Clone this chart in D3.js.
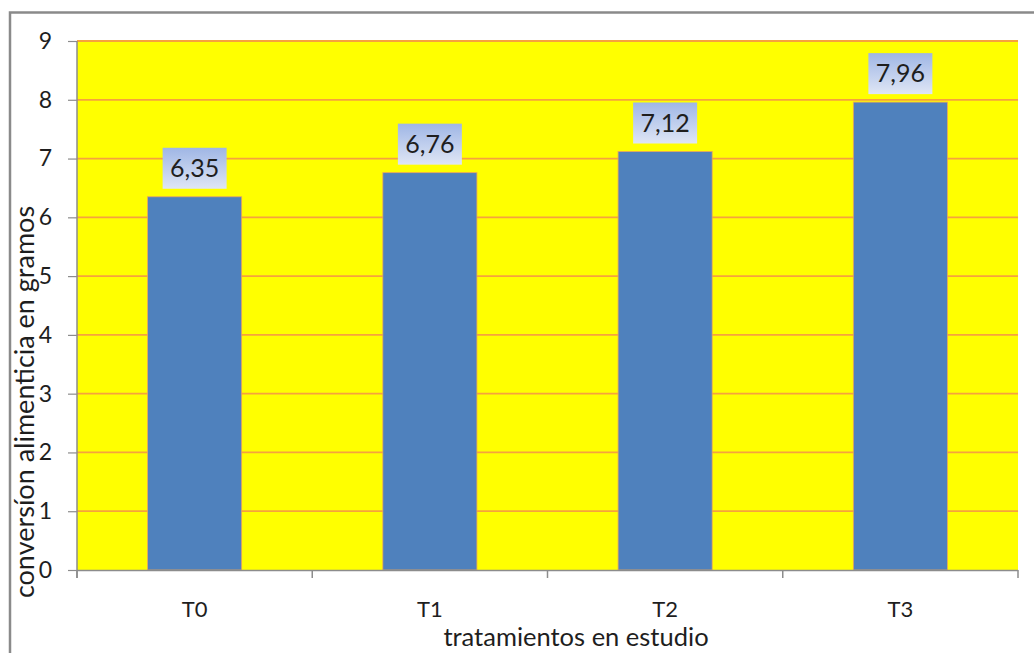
<!DOCTYPE html>
<html>
<head>
<meta charset="utf-8">
<script src="https://cdn.jsdelivr.net/npm/d3@7"></script>
<style>
  html, body { margin: 0; padding: 0; background: #fff; }
  svg { display: block; }
  text { font-family: Lato, "Noto Sans", sans-serif; fill: #1e1e1e; }
</style>
</head>
<body>
<svg id="chart" width="1034" height="653"></svg>
<script>
// Feed conversion per treatment
const categories = ["T0", "T1", "T2", "T3"];
const values = [6.35, 6.76, 7.12, 7.96];
const valueLabels = ["6,35", "6,76", "7,12", "7,96"];
const yTicks = [0, 1, 2, 3, 4, 5, 6, 7, 8, 9];
const yTitle = "conversíon alimenticia en gramos";
const xTitle = "tratamientos en estudio";

const svg = d3.select("#chart");
const W = 1034, H = 653;
const plot = { left: 77, right: 1018, top: 41, bottom: 570 };

const defs = svg.append("defs");
const grad = defs.append("linearGradient")
  .attr("id", "labelFill").attr("x1", 0).attr("y1", 0).attr("x2", 0).attr("y2", 1);
grad.append("stop").attr("offset", "0%").attr("stop-color", "#9fb6e5");
grad.append("stop").attr("offset", "100%").attr("stop-color", "#dfe6f5");

// outer frame (top and left edges visible)
svg.append("path")
  .attr("d", `M10,${H} L10,12.5 L${W},12.5`)
  .attr("fill", "none").attr("stroke", "#8a8a8a").attr("stroke-width", 2.5);

const x = d3.scaleBand().domain(categories).range([plot.left, plot.right]).paddingInner(0.6).paddingOuter(0.3);
const xOuter = d3.scaleBand().domain(categories).range([plot.left, plot.right]);
const y = d3.scaleLinear().domain([0, 9]).range([plot.bottom, plot.top]);

// plot background
svg.append("rect")
  .attr("x", plot.left).attr("y", plot.top)
  .attr("width", plot.right - plot.left).attr("height", plot.bottom - plot.top)
  .attr("fill", "#ffff00");

// gridlines
svg.append("g").selectAll("line").data(yTicks.filter(d => d > 0)).join("line")
  .attr("x1", plot.left).attr("x2", plot.right)
  .attr("y1", d => y(d)).attr("y2", d => y(d))
  .attr("stroke", "#f6a23e").attr("stroke-width", 1.8);

// bars
svg.append("g").selectAll("rect").data(values).join("rect")
  .attr("x", (d, i) => x(categories[i]))
  .attr("width", x.bandwidth())
  .attr("y", d => y(d))
  .attr("height", d => y(0) - y(d))
  .attr("fill", "#4f81bd")
  .attr("stroke", "#eaa55c").attr("stroke-width", 0.8);

// y axis
const yAxis = svg.append("g").attr("transform", `translate(${plot.left},0)`)
  .call(d3.axisLeft(y).tickValues(yTicks).tickSize(9).tickPadding(16).tickFormat(d3.format("d")));
yAxis.select(".domain").remove();
yAxis.selectAll(".tick line").attr("stroke", "#8c8c8c").attr("stroke-width", 1.2);
yAxis.selectAll(".tick text").attr("font-size", 23).style("font-family", "Lato, sans-serif").attr("fill", "#1e1e1e");
svg.append("line")
  .attr("x1", plot.left).attr("x2", plot.left).attr("y1", plot.top).attr("y2", plot.bottom + 8)
  .attr("stroke", "#8c8c8c").attr("stroke-width", 1.5);

// x axis
svg.append("line")
  .attr("x1", plot.left).attr("x2", plot.right).attr("y1", plot.bottom + 0.5).attr("y2", plot.bottom + 0.5)
  .attr("stroke", "#8c8c8c").attr("stroke-width", 1.5);
const sepTicks = categories.map(c => xOuter(c)).concat([plot.right]);
svg.append("g").selectAll("line").data(sepTicks).join("line")
  .attr("x1", d => d).attr("x2", d => d)
  .attr("y1", plot.bottom).attr("y2", plot.bottom + 8)
  .attr("stroke", "#8c8c8c").attr("stroke-width", 1.5);
svg.append("g").selectAll("text").data(categories).join("text")
  .attr("x", d => xOuter(d) + xOuter.bandwidth() / 2)
  .attr("y", 617)
  .attr("text-anchor", "middle")
  .attr("font-size", 22)
  .text(d => d);

// value labels
const lab = svg.append("g").selectAll("g").data(values).join("g")
  .attr("transform", (d, i) => `translate(${x(categories[i]) + x.bandwidth() / 2},${y(d) - 8})`);
lab.append("rect")
  .attr("x", -32).attr("y", -41).attr("width", 64).attr("height", 41)
  .attr("fill", "url(#labelFill)");
lab.append("text")
  .attr("x", 0).attr("y", -12)
  .attr("text-anchor", "middle")
  .attr("font-size", 25)
  .text((d, i) => valueLabels[i]);

// axis titles
svg.append("text")
  .attr("transform", "translate(34,402) rotate(-90)")
  .attr("text-anchor", "middle")
  .attr("font-size", 27)
  .text(yTitle);
svg.append("text")
  .attr("x", 576).attr("y", 646)
  .attr("text-anchor", "middle")
  .attr("font-size", 25.5)
  .text(xTitle);
</script>
</body>
</html>
